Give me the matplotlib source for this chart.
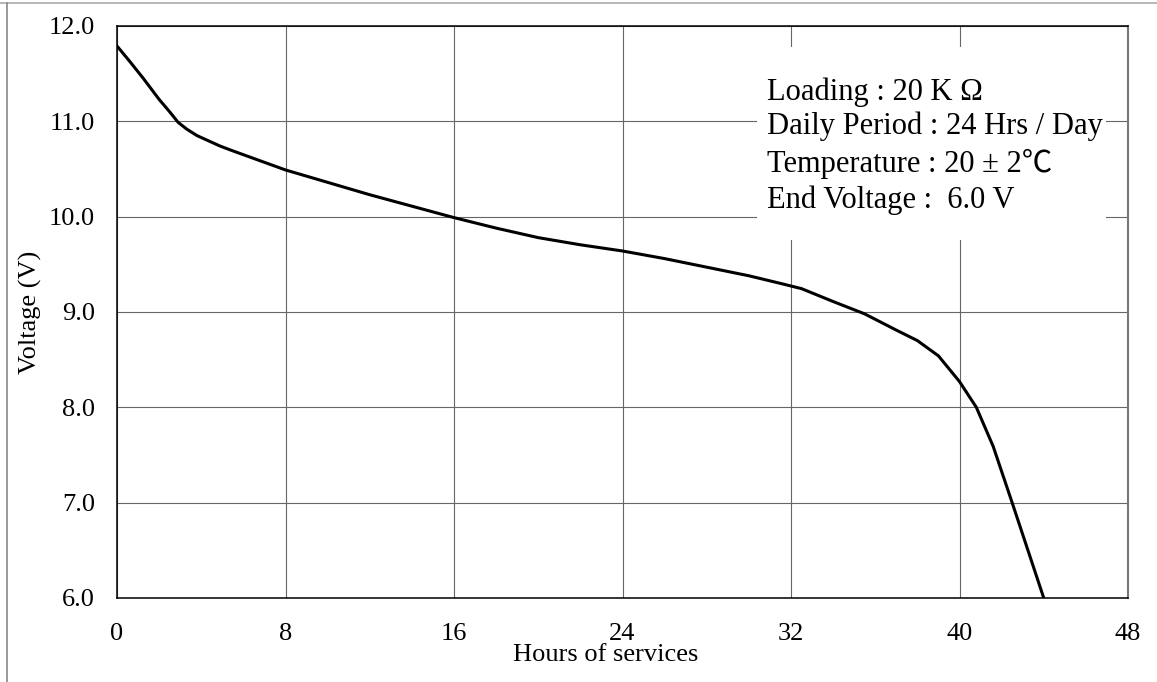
import numpy as np
import matplotlib.pyplot as plt
from matplotlib.lines import Line2D
from matplotlib.patches import Rectangle

# данные кривой разряда
hours = [0, 0.6, 1.25, 2, 2.5, 2.9, 3.3, 3.8, 4.3, 4.9, 5.5, 7, 8, 10, 12, 14,
         16, 18, 20, 22, 24, 26, 28, 30, 31.5, 32.5, 33, 34, 35.5, 37, 38, 39,
         40, 40.8, 41.6, 42.5, 43.25, 44]
voltage = [11.79, 11.63, 11.45, 11.23, 11.10, 10.99, 10.92, 10.85, 10.80, 10.74,
           10.69, 10.57, 10.49, 10.36, 10.23, 10.11, 9.99, 9.88, 9.78, 9.705,
           9.64, 9.56, 9.47, 9.38, 9.30, 9.245, 9.20, 9.11, 8.98, 8.81, 8.70,
           8.54, 8.27, 8.00, 7.59, 7.00, 6.50, 6.00]

x_ticks = [0, 8, 16, 24, 32, 40, 48]
y_ticks = [6.0, 7.0, 8.0, 9.0, 10.0, 11.0, 12.0]

info_lines = ['Loading : 20 K Ω', 'Daily Period : 24 Hrs / Day',
              'Temperature : 20 ± 2℃', 'End Voltage :  6.0 V']

plt.rcParams['font.family'] = ['Liberation Serif', 'Noto Sans CJK JP', 'DejaVu Serif']

fig = plt.figure(figsize=(11.57, 6.82), dpi=100)
ax = fig.add_axes([117/1157, 1-598/682, (1128-117)/1157, (598-26)/682])

# сетка
ax.set_xlim(0, 48)
ax.set_ylim(6, 12)
ax.set_xticks(x_ticks)
ax.set_yticks(y_ticks)
ax.set_yticklabels([f'{v:.1f}' for v in y_ticks])
ax.grid(True, color='#666666', lw=0.8)
ax.tick_params(length=0, labelsize=19)
ax.tick_params(axis='y', pad=16)
ax.tick_params(axis='x', pad=18)
for s in ['left', 'bottom', 'top']:
    ax.spines[s].set_color('black')
    ax.spines[s].set_linewidth(1.1)
ax.spines['right'].set_color('#777777')
ax.spines['right'].set_linewidth(1.5)

ax.plot(hours, voltage, color='black', lw=2.2, zorder=5)

# белая плашка с условиями
ax.add_patch(Rectangle((30.4, 9.755), 16.56, 2.02, facecolor='white',
                       edgecolor='none', zorder=3))
base_y = [11.224, 10.87, 10.468, 10.09]
for line, yy in zip(info_lines, base_y):
    ax.text(30.86, yy, line, fontsize=22, va='baseline', ha='left', zorder=4)

ax.set_xlabel('Hours of services', fontsize=19)
ax.xaxis.set_label_coords(0.483, -0.08)
ax.set_ylabel('Voltage (V)', fontsize=19)
ax.yaxis.set_label_coords(-0.074, 0.5)

# рамка вокруг картинки
fig.add_artist(Line2D([0, 1], [1-3/682, 1-3/682], color='#aaaaaa', lw=1.2))
fig.add_artist(Line2D([7/1157, 7/1157], [0, 1-3/682], color='#888888', lw=1.2))

fig.savefig('out.png', dpi=100)
